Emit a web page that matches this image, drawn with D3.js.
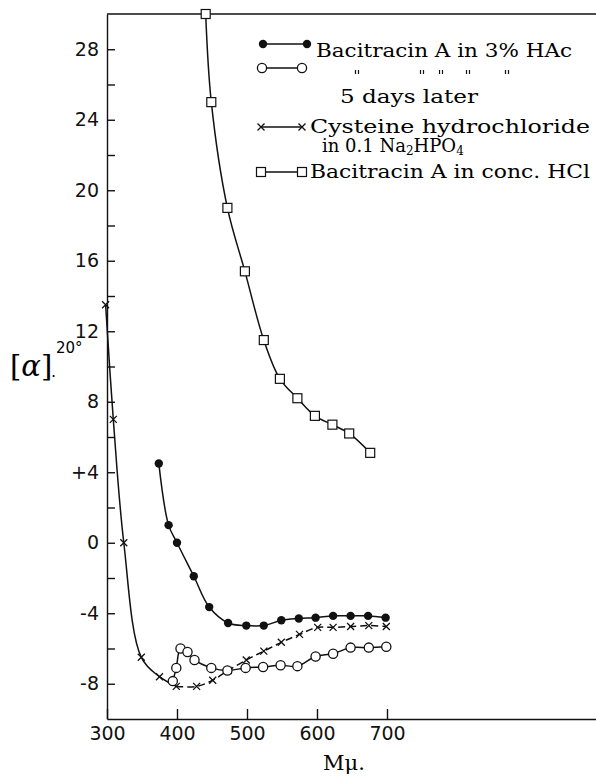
<!DOCTYPE html>
<html>
<head>
<meta charset="utf-8">
<script src="https://cdn.jsdelivr.net/npm/d3@7"></script>
<style>
  body { margin: 0; background: #fff; }
  svg { display: block; }
</style>
</head>
<body>
<div id="chart"></div>
<script>
// Optical rotation [alpha]20 vs wavelength (m-mu)

// Bacitracin A in 3% HAc (filled circles)
const hacWl  = [374, 388, 400, 424, 446, 473, 499, 524, 549, 574, 598, 623, 648, 673, 698];
const hacRot = [4.5, 1.0, 0.0, -1.9, -3.65, -4.55, -4.7, -4.7, -4.4, -4.3, -4.25, -4.15, -4.15, -4.15, -4.25];

// same solution, 5 days later (open circles)
const laterWl  = [394, 399, 405, 415, 425, 449, 472, 498, 523, 548, 572, 598, 623, 648, 674, 699];
const laterRot = [-7.85, -7.1, -6.0, -6.2, -6.65, -7.1, -7.25, -7.1, -7.05, -6.95, -7.0, -6.45, -6.3, -5.95, -5.95, -5.9];

// Cysteine hydrochloride in 0.1 Na2HPO4 (crosses)
const cysWl  = [298, 309, 324, 349, 375, 399, 428, 451, 473, 499, 524, 549, 575, 601, 623, 648, 674, 699];
const cysRot = [13.5, 7.0, 0.0, -6.5, -7.6, -8.15, -8.15, -7.8, -7.25, -6.65, -6.15, -5.65, -5.2, -4.8, -4.8, -4.75, -4.7, -4.75];

// Bacitracin A in conc. HCl (squares)
const hclWl  = [441, 449, 472, 497, 524, 547, 572, 597, 622, 646, 676];
const hclRot = [30.0, 25.0, 19.0, 15.4, 11.5, 9.3, 8.2, 7.2, 6.7, 6.2, 5.1];

// axis ticks
const yTickValues = [-8, -6, -4, -2, 0, 2, 4, 6, 8, 10, 12, 14, 16, 18, 20, 22, 24, 26, 28];
const yTickLabels = {"-8": "-8", "-4": "-4", "0": "0", "4": "+4", "8": "8", "12": "12", "16": "16", "20": "20", "24": "24", "28": "28"};
const xTickValues = [300, 400, 500, 600, 700];

const width = 596, height = 776;

const svg = d3.select("#chart").append("svg")
              .attr("width", width)
              .attr("height", height)
              .style("background", "#fff");

const xScale = d3.scaleLinear().domain([300, 1000]).range([107, 597]);
const yScale = d3.scaleLinear().domain([-10, 30]).range([719, 14]);

// Y axis, ticks pointing inward
const yAxis = svg.append("g")
   .attr("transform", "translate(107,0)")
   .call(d3.axisLeft(yScale)
           .tickValues(yTickValues)
           .tickSize(-8)
           .tickSizeOuter(0)
           .tickPadding(8)
           .tickFormat(d => yTickLabels[String(d)] || ""));
yAxis.selectAll("text")
     .attr("font-family", "'DejaVu Sans', sans-serif")
     .attr("font-size", 19)
     .attr("fill", "#111");

// X axis, ticks pointing up
const xAxis = svg.append("g")
   .attr("transform", "translate(0,719)")
   .call(d3.axisBottom(xScale)
           .tickValues(xTickValues)
           .tickSize(-10)
           .tickSizeOuter(0)
           .tickPadding(8)
           .tickFormat(d3.format("d")));
xAxis.selectAll("text")
     .attr("font-family", "'DejaVu Sans', sans-serif")
     .attr("font-size", 19)
     .attr("fill", "#111");
svg.selectAll(".domain, .tick line").attr("stroke", "#111").attr("stroke-width", 1.4);

// top frame line
svg.append("line")
   .attr("x1", 107).attr("x2", 596)
   .attr("y1", 14).attr("y2", 14)
   .attr("stroke", "#111").attr("stroke-width", 1.4);

// axis titles
svg.append("text")
   .attr("x", 323).attr("y", 770)
   .attr("font-family", "'DejaVu Serif', serif")
   .attr("font-size", 21)
   .text("Mμ.");

const yTitle = svg.append("text")
   .attr("x", 10).attr("y", 376)
   .attr("font-family", "'DejaVu Serif', serif")
   .attr("font-size", 29);
yTitle.append("tspan").text("[");
yTitle.append("tspan").attr("font-style", "italic").text("α");
yTitle.append("tspan").text("]");
svg.append("text")
   .attr("x", 56).attr("y", 353)
   .attr("font-family", "'DejaVu Sans', sans-serif")
   .attr("font-size", 15)
   .text("20°");
svg.append("text")
   .attr("x", 51).attr("y", 377)
   .attr("font-family", "'DejaVu Sans', sans-serif")
   .attr("font-size", 16)
   .text(".");

// curves
const lineGen = d3.line()
    .x(d => xScale(d[0]))
    .y(d => yScale(d[1]))
    .curve(d3.curveCatmullRom.alpha(0.5));

function pairs(wl, rot) {
    return wl.map((w, i) => [w, rot[i]]);
}

const hacData = pairs(hacWl, hacRot);
const laterData = pairs(laterWl, laterRot);
const cysData = pairs(cysWl, cysRot);
const hclData = pairs(hclWl, hclRot);

function drawCurve(data, dash) {
    svg.append("path")
       .datum(data)
       .attr("d", lineGen)
       .attr("fill", "none")
       .attr("stroke", "#111")
       .attr("stroke-width", 1.5)
       .attr("stroke-dasharray", dash || null);
}

drawCurve(hclData);
drawCurve(hacData);
drawCurve(laterData);
// cysteine: solid down to the minimum, dashed afterwards
const cysSplit = cysWl.indexOf(399);
drawCurve(cysData.slice(0, cysSplit + 1));
drawCurve(cysData.slice(cysSplit), "7,4");

// marker helpers
function filledDots(g, pts) {
    g.selectAll(null).data(pts).enter().append("circle")
     .attr("cx", d => d[0]).attr("cy", d => d[1]).attr("r", 4.2)
     .attr("fill", "#111");
}
function openDots(g, pts) {
    g.selectAll(null).data(pts).enter().append("circle")
     .attr("cx", d => d[0]).attr("cy", d => d[1]).attr("r", 4.6)
     .attr("fill", "#fff").attr("stroke", "#111").attr("stroke-width", 1.3);
}
function crosses(g, pts) {
    g.selectAll(null).data(pts).enter().append("path")
     .attr("d", d => `M${d[0]-3.5},${d[1]-3.5}L${d[0]+3.5},${d[1]+3.5}M${d[0]-3.5},${d[1]+3.5}L${d[0]+3.5},${d[1]-3.5}`)
     .attr("stroke", "#111").attr("stroke-width", 1.3).attr("fill", "none");
}
function squares(g, pts) {
    g.selectAll(null).data(pts).enter().append("rect")
     .attr("x", d => d[0] - 4.5).attr("y", d => d[1] - 4.5)
     .attr("width", 9).attr("height", 9)
     .attr("fill", "#fff").attr("stroke", "#111").attr("stroke-width", 1.2);
}

const toPx = data => data.map(d => [xScale(d[0]), yScale(d[1])]);
const marks = svg.append("g");
crosses(marks, toPx(cysData));
filledDots(marks, toPx(hacData));
openDots(marks, toPx(laterData));
squares(marks, toPx(hclData));

// legend
const legendFont = "'DejaVu Serif', serif";
const legend = svg.append("g");

function legendLine(x1, x2, yy) {
    legend.append("line")
          .attr("x1", x1).attr("x2", x2).attr("y1", yy).attr("y2", yy)
          .attr("stroke", "#111").attr("stroke-width", 1.5);
}
function legendText(tx, ty, str, len) {
    return legend.append("text")
          .attr("x", tx).attr("y", ty)
          .attr("font-family", legendFont)
          .attr("font-size", 18)
          .attr("textLength", len)
          .attr("lengthAdjust", "spacingAndGlyphs")
          .text(str);
}

legendLine(263, 307, 44);
filledDots(legend, [[263, 44], [307, 44]]);
legendText(316, 57, "Bacitracin A in 3% HAc", 256);

legendLine(262, 302, 68);
openDots(legend, [[262, 68], [302, 68]]);
// ditto marks under the first row
[357, 422, 441, 468, 507].forEach(function (dx) {
    legend.append("path")
          .attr("d", `M${dx - 1.5},70L${dx - 1.5},74M${dx + 1.5},70L${dx + 1.5},74`)
          .attr("stroke", "#111")
          .attr("stroke-width", 1.2);
});
legendText(340, 103, "5 days later", 138);

legendLine(261, 302, 127);
crosses(legend, [[261, 127], [302, 127]]);
legendText(310, 133, "Cysteine hydrochloride", 280);
const naText = legend.append("text")
      .attr("x", 322).attr("y", 152)
      .attr("font-family", legendFont)
      .attr("font-size", 18);
naText.append("tspan").text("in 0.1 Na");
naText.append("tspan").attr("font-size", 12).attr("dy", 3).text("2");
naText.append("tspan").attr("dy", -3).text("HPO");
naText.append("tspan").attr("font-size", 12).attr("dy", 3).text("4");

legendLine(261, 302, 172);
squares(legend, [[261, 172], [302, 172]]);
legendText(310, 178, "Bacitracin A in conc. HCl", 280);
</script>
</body>
</html>
